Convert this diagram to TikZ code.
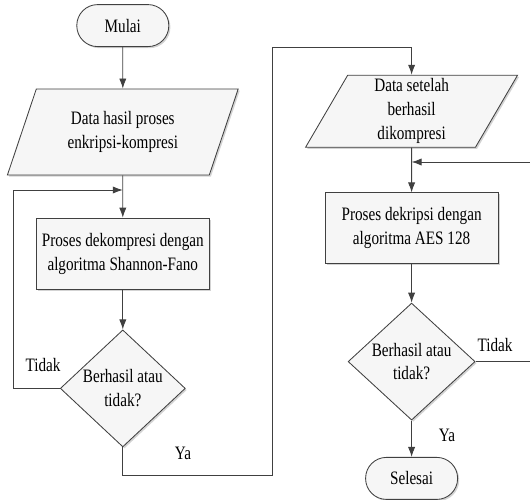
\documentclass[tikz,border=0pt]{standalone}
\usepackage{fontspec}
\setmainfont{Liberation Serif}[FakeStretch=0.8]
\usetikzlibrary{shapes.geometric,arrows.meta,shadows}
\definecolor{lineclr}{HTML}{404040}
\begin{document}
\begin{tikzpicture}[font=\fontsize{13.5}{17}\selectfont, >={Latex[length=0.25cm,width=0.18cm]},
          base/.style={draw=lineclr, line width=0.6pt, fill=gray!7, align=center,
            drop shadow={shadow xshift=0.04cm, shadow yshift=-0.04cm, opacity=0.35}},
          term/.style={base, rounded corners=0.52cm, minimum width=2.3cm, minimum height=1.05cm},
          io/.style={base, trapezium, trapezium stretches=true, inner sep=1pt},
          proc/.style={base, minimum width=4.325cm, minimum height=1.775cm},
          dec/.style={base, diamond, inner sep=0pt, minimum height=2.925cm},
          arr/.style={->, draw=lineclr, line width=0.6pt}]
        \useasboundingbox (0,0) rectangle (13.25,12.5);
        \node[term] (start) at (3.07,11.86) {Mulai};
        \node[io, trapezium left angle=66.7, trapezium right angle=113.3,
          minimum width=5.775cm, minimum height=2.15cm] (in1) at (3.07,9.2) {Data hasil proses\\enkripsi-kompresi};
        \node[proc] (proc1) at (3.07,6.16) {Proses dekompresi dengan\\algoritma Shannon-Fano};
        \node[dec, minimum width=3.125cm] (dec1) at (3.07,2.79) {Berhasil atau\\tidak?};
        \node[io, trapezium left angle=69.4, trapezium right angle=110.6,
          minimum width=5.325cm, minimum height=1.8cm] (in2) at (10.29,9.72) {Data setelah\\berhasil\\dikompresi};
        \node[proc] (proc2) at (10.29,6.79) {Proses dekripsi dengan\\algoritma AES 128};
        \node[dec, minimum width=3.175cm] (dec2) at (10.29,3.46) {Berhasil atau\\tidak?};
        \node[term] (stop) at (10.29,0.54) {Selesai};
        \coordinate (j1) at (3.07,7.75);
        \coordinate (j2) at (10.29,8.45);
        \draw[arr] (start) -- (in1);
        \draw[arr] (in1) -- (proc1);
        \draw[arr] (proc1) -- (dec1);
        \draw[arr] (dec1.west) -- ++(-1.15,0) |- (j1);
        \draw[arr] (dec1.south) |- (6.8,0.625) -- (6.8,11.325) -| (in2);
        \draw[arr] (in2) -- (proc2);
        \draw[arr] (proc2) -- (dec2);
        \draw[arr] (dec2) -- (stop);
        \draw[arr] (dec2.east) -- ++(1.5,0) |- (j2);
        \node (lt1) at (1.075,3.375) {Tidak};
        \node (ly1) at (4.575,1.175) {Ya};
        \node (lt2) at (12.375,3.875) {Tidak};
        \node (ly2) at (11.175,1.625) {Ya};
      \end{tikzpicture}
\end{document}
